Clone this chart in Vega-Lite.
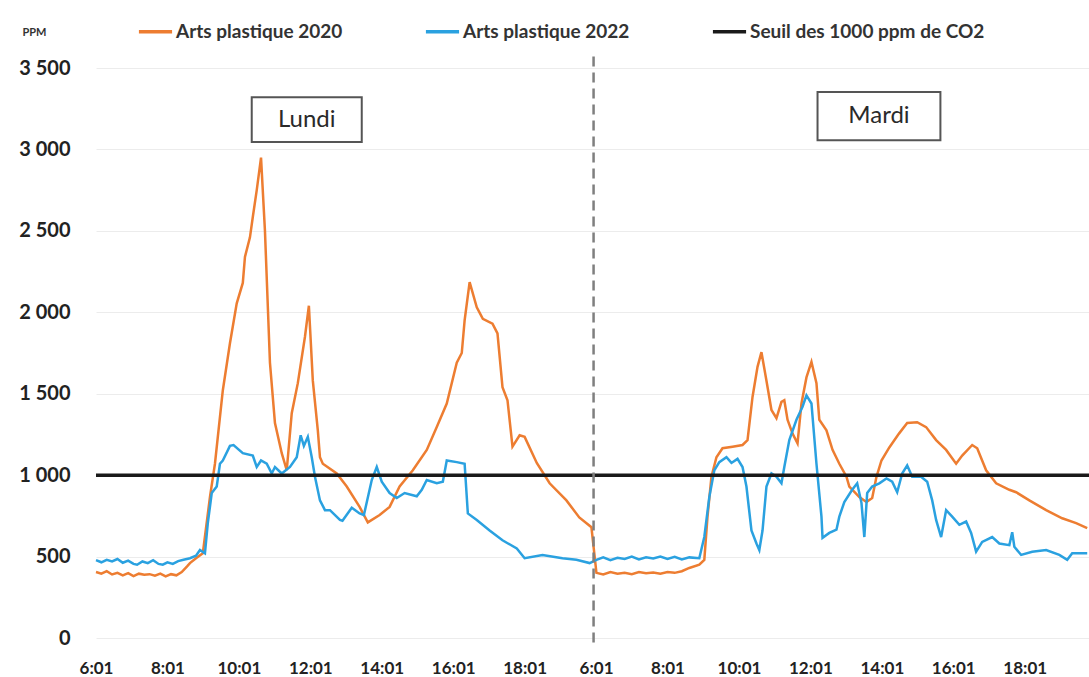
{
  "$schema": "https://vega.github.io/schema/vega-lite/v6.json",
  "width": 993,
  "height": 570,
  "autosize": {"type": "none"},
  "padding": {"left": 96, "top": 68, "right": 0, "bottom": 39},
  "background": "white",
  "config": {"view": {"stroke": null}, "font": "Lato"},
  "datasets": {
    "a2020": [
      {"t": 0, "ppm": 405}, {"t": 0.15, "ppm": 395}, {"t": 0.3, "ppm": 410}, {"t": 0.45, "ppm": 390}, {"t": 0.6, "ppm": 400},
      {"t": 0.75, "ppm": 385}, {"t": 0.9, "ppm": 398}, {"t": 1.05, "ppm": 380}, {"t": 1.2, "ppm": 395}, {"t": 1.35, "ppm": 388},
      {"t": 1.5, "ppm": 392}, {"t": 1.65, "ppm": 383}, {"t": 1.8, "ppm": 395}, {"t": 1.95, "ppm": 378}, {"t": 2.1, "ppm": 392},
      {"t": 2.25, "ppm": 385}, {"t": 2.4, "ppm": 405}, {"t": 2.55, "ppm": 440}, {"t": 2.63, "ppm": 460}, {"t": 2.8, "ppm": 490},
      {"t": 2.99, "ppm": 520}, {"t": 3.19, "ppm": 865}, {"t": 3.33, "ppm": 1070}, {"t": 3.55, "ppm": 1520}, {"t": 3.75, "ppm": 1810},
      {"t": 3.94, "ppm": 2055}, {"t": 4.11, "ppm": 2180}, {"t": 4.17, "ppm": 2340}, {"t": 4.31, "ppm": 2460}, {"t": 4.39, "ppm": 2585},
      {"t": 4.5, "ppm": 2750}, {"t": 4.62, "ppm": 2950}, {"t": 4.73, "ppm": 2500}, {"t": 4.87, "ppm": 1690}, {"t": 5.01, "ppm": 1320},
      {"t": 5.2, "ppm": 1135}, {"t": 5.34, "ppm": 1030}, {"t": 5.48, "ppm": 1380}, {"t": 5.65, "ppm": 1565}, {"t": 5.85, "ppm": 1850},
      {"t": 5.96, "ppm": 2040}, {"t": 6.07, "ppm": 1580}, {"t": 6.21, "ppm": 1275}, {"t": 6.27, "ppm": 1110}, {"t": 6.35, "ppm": 1070},
      {"t": 6.74, "ppm": 1010}, {"t": 7.02, "ppm": 930}, {"t": 7.38, "ppm": 805}, {"t": 7.61, "ppm": 710}, {"t": 7.94, "ppm": 755},
      {"t": 8.22, "ppm": 805}, {"t": 8.5, "ppm": 930}, {"t": 8.87, "ppm": 1030}, {"t": 9.26, "ppm": 1155}, {"t": 9.54, "ppm": 1295},
      {"t": 9.82, "ppm": 1440}, {"t": 10.1, "ppm": 1690}, {"t": 10.24, "ppm": 1750}, {"t": 10.32, "ppm": 1950}, {"t": 10.46, "ppm": 2185},
      {"t": 10.66, "ppm": 2030}, {"t": 10.83, "ppm": 1960}, {"t": 11.1, "ppm": 1930}, {"t": 11.24, "ppm": 1870}, {"t": 11.38, "ppm": 1540},
      {"t": 11.52, "ppm": 1460}, {"t": 11.66, "ppm": 1175}, {"t": 11.86, "ppm": 1245}, {"t": 12.0, "ppm": 1235}, {"t": 12.34, "ppm": 1075},
      {"t": 12.7, "ppm": 950}, {"t": 13.17, "ppm": 845}, {"t": 13.53, "ppm": 740}, {"t": 13.87, "ppm": 680},
      {"t": 14.01, "ppm": 400}, {"t": 14.2, "ppm": 390}, {"t": 14.4, "ppm": 405}, {"t": 14.6, "ppm": 395}, {"t": 14.8, "ppm": 400},
      {"t": 15.0, "ppm": 392}, {"t": 15.2, "ppm": 405}, {"t": 15.4, "ppm": 398}, {"t": 15.6, "ppm": 402}, {"t": 15.8, "ppm": 395},
      {"t": 16.0, "ppm": 405}, {"t": 16.2, "ppm": 400}, {"t": 16.4, "ppm": 410}, {"t": 16.61, "ppm": 430}, {"t": 16.89, "ppm": 450},
      {"t": 17.03, "ppm": 480}, {"t": 17.12, "ppm": 745}, {"t": 17.23, "ppm": 990}, {"t": 17.37, "ppm": 1110}, {"t": 17.54, "ppm": 1165},
      {"t": 17.82, "ppm": 1175}, {"t": 18.1, "ppm": 1185}, {"t": 18.24, "ppm": 1215}, {"t": 18.38, "ppm": 1480}, {"t": 18.52, "ppm": 1665},
      {"t": 18.63, "ppm": 1755}, {"t": 18.77, "ppm": 1580}, {"t": 18.91, "ppm": 1400}, {"t": 19.05, "ppm": 1350}, {"t": 19.19, "ppm": 1450},
      {"t": 19.27, "ppm": 1460}, {"t": 19.36, "ppm": 1340}, {"t": 19.5, "ppm": 1255}, {"t": 19.64, "ppm": 1195}, {"t": 19.75, "ppm": 1440},
      {"t": 19.89, "ppm": 1600}, {"t": 20.03, "ppm": 1695}, {"t": 20.17, "ppm": 1565}, {"t": 20.25, "ppm": 1340}, {"t": 20.45, "ppm": 1275},
      {"t": 20.62, "ppm": 1155}, {"t": 20.81, "ppm": 1070}, {"t": 21.01, "ppm": 990}, {"t": 21.09, "ppm": 930}, {"t": 21.37, "ppm": 865},
      {"t": 21.57, "ppm": 835}, {"t": 21.73, "ppm": 860}, {"t": 21.85, "ppm": 990}, {"t": 21.99, "ppm": 1090}, {"t": 22.21, "ppm": 1170},
      {"t": 22.48, "ppm": 1255}, {"t": 22.71, "ppm": 1320}, {"t": 22.99, "ppm": 1325}, {"t": 23.24, "ppm": 1295}, {"t": 23.52, "ppm": 1215},
      {"t": 23.8, "ppm": 1155}, {"t": 24.08, "ppm": 1070}, {"t": 24.25, "ppm": 1120}, {"t": 24.53, "ppm": 1185}, {"t": 24.67, "ppm": 1165},
      {"t": 24.92, "ppm": 1030}, {"t": 25.2, "ppm": 950}, {"t": 25.57, "ppm": 910}, {"t": 25.76, "ppm": 895}, {"t": 26.13, "ppm": 845},
      {"t": 26.6, "ppm": 785}, {"t": 27.05, "ppm": 735}, {"t": 27.44, "ppm": 705}, {"t": 27.75, "ppm": 675}
    ],
    "a2022": [
      {"t": 0, "ppm": 478}, {"t": 0.15, "ppm": 465}, {"t": 0.3, "ppm": 480}, {"t": 0.45, "ppm": 470}, {"t": 0.6, "ppm": 485},
      {"t": 0.75, "ppm": 462}, {"t": 0.9, "ppm": 475}, {"t": 1.05, "ppm": 455}, {"t": 1.15, "ppm": 450}, {"t": 1.3, "ppm": 470},
      {"t": 1.45, "ppm": 460}, {"t": 1.6, "ppm": 478}, {"t": 1.75, "ppm": 455}, {"t": 1.87, "ppm": 450}, {"t": 2.0, "ppm": 465},
      {"t": 2.15, "ppm": 455}, {"t": 2.3, "ppm": 472}, {"t": 2.45, "ppm": 480}, {"t": 2.63, "ppm": 490}, {"t": 2.8, "ppm": 505},
      {"t": 2.91, "ppm": 540}, {"t": 3.05, "ppm": 520}, {"t": 3.13, "ppm": 705}, {"t": 3.24, "ppm": 890}, {"t": 3.38, "ppm": 930},
      {"t": 3.47, "ppm": 1070}, {"t": 3.55, "ppm": 1090}, {"t": 3.75, "ppm": 1180}, {"t": 3.85, "ppm": 1185}, {"t": 4.11, "ppm": 1135},
      {"t": 4.39, "ppm": 1120}, {"t": 4.5, "ppm": 1050}, {"t": 4.62, "ppm": 1090}, {"t": 4.78, "ppm": 1070}, {"t": 4.92, "ppm": 1010},
      {"t": 5.01, "ppm": 1050}, {"t": 5.2, "ppm": 1010}, {"t": 5.43, "ppm": 1050}, {"t": 5.62, "ppm": 1110}, {"t": 5.73, "ppm": 1245},
      {"t": 5.82, "ppm": 1180}, {"t": 5.93, "ppm": 1235}, {"t": 6.04, "ppm": 1110}, {"t": 6.13, "ppm": 990}, {"t": 6.27, "ppm": 845},
      {"t": 6.41, "ppm": 785}, {"t": 6.55, "ppm": 785}, {"t": 6.83, "ppm": 725}, {"t": 6.9, "ppm": 720}, {"t": 7.16, "ppm": 800},
      {"t": 7.38, "ppm": 765}, {"t": 7.5, "ppm": 755}, {"t": 7.72, "ppm": 970}, {"t": 7.86, "ppm": 1050}, {"t": 8.0, "ppm": 960},
      {"t": 8.22, "ppm": 890}, {"t": 8.42, "ppm": 860}, {"t": 8.64, "ppm": 890}, {"t": 8.98, "ppm": 870}, {"t": 9.12, "ppm": 910},
      {"t": 9.26, "ppm": 970}, {"t": 9.54, "ppm": 950}, {"t": 9.71, "ppm": 960}, {"t": 9.82, "ppm": 1090}, {"t": 10.1, "ppm": 1080},
      {"t": 10.32, "ppm": 1070}, {"t": 10.41, "ppm": 765}, {"t": 10.66, "ppm": 725}, {"t": 11.02, "ppm": 660}, {"t": 11.38, "ppm": 600},
      {"t": 11.78, "ppm": 550}, {"t": 12.0, "ppm": 490}, {"t": 12.5, "ppm": 510}, {"t": 13.06, "ppm": 490}, {"t": 13.45, "ppm": 480},
      {"t": 13.82, "ppm": 460},
      {"t": 14.01, "ppm": 480}, {"t": 14.2, "ppm": 495}, {"t": 14.4, "ppm": 478}, {"t": 14.6, "ppm": 492}, {"t": 14.8, "ppm": 485},
      {"t": 15.0, "ppm": 500}, {"t": 15.2, "ppm": 482}, {"t": 15.4, "ppm": 495}, {"t": 15.6, "ppm": 488}, {"t": 15.8, "ppm": 500},
      {"t": 16.0, "ppm": 485}, {"t": 16.2, "ppm": 498}, {"t": 16.4, "ppm": 482}, {"t": 16.61, "ppm": 495}, {"t": 16.89, "ppm": 490},
      {"t": 17.03, "ppm": 620}, {"t": 17.17, "ppm": 865}, {"t": 17.31, "ppm": 1030}, {"t": 17.45, "ppm": 1080}, {"t": 17.65, "ppm": 1110},
      {"t": 17.79, "ppm": 1075}, {"t": 17.96, "ppm": 1100}, {"t": 18.1, "ppm": 1050}, {"t": 18.21, "ppm": 930}, {"t": 18.35, "ppm": 660},
      {"t": 18.49, "ppm": 580}, {"t": 18.57, "ppm": 540}, {"t": 18.66, "ppm": 660}, {"t": 18.77, "ppm": 930}, {"t": 18.91, "ppm": 1010},
      {"t": 19.05, "ppm": 990}, {"t": 19.19, "ppm": 950}, {"t": 19.27, "ppm": 1050}, {"t": 19.41, "ppm": 1215}, {"t": 19.61, "ppm": 1340},
      {"t": 19.78, "ppm": 1420}, {"t": 19.89, "ppm": 1490}, {"t": 20.03, "ppm": 1440}, {"t": 20.17, "ppm": 1070}, {"t": 20.31, "ppm": 745},
      {"t": 20.34, "ppm": 615}, {"t": 20.53, "ppm": 645}, {"t": 20.73, "ppm": 665}, {"t": 20.81, "ppm": 745}, {"t": 20.95, "ppm": 835},
      {"t": 21.17, "ppm": 910}, {"t": 21.31, "ppm": 950}, {"t": 21.43, "ppm": 830}, {"t": 21.51, "ppm": 620}, {"t": 21.59, "ppm": 890},
      {"t": 21.73, "ppm": 930}, {"t": 21.93, "ppm": 950}, {"t": 22.13, "ppm": 980}, {"t": 22.29, "ppm": 960}, {"t": 22.43, "ppm": 895},
      {"t": 22.57, "ppm": 1010}, {"t": 22.71, "ppm": 1060}, {"t": 22.85, "ppm": 990}, {"t": 23.1, "ppm": 990}, {"t": 23.27, "ppm": 960},
      {"t": 23.41, "ppm": 845}, {"t": 23.52, "ppm": 725}, {"t": 23.66, "ppm": 620}, {"t": 23.8, "ppm": 785}, {"t": 23.97, "ppm": 745},
      {"t": 24.17, "ppm": 695}, {"t": 24.36, "ppm": 715}, {"t": 24.5, "ppm": 645}, {"t": 24.64, "ppm": 530}, {"t": 24.81, "ppm": 590},
      {"t": 25.09, "ppm": 620}, {"t": 25.29, "ppm": 580}, {"t": 25.57, "ppm": 570}, {"t": 25.65, "ppm": 650}, {"t": 25.71, "ppm": 560},
      {"t": 25.9, "ppm": 510}, {"t": 26.21, "ppm": 530}, {"t": 26.6, "ppm": 540}, {"t": 26.97, "ppm": 510}, {"t": 27.19, "ppm": 480},
      {"t": 27.33, "ppm": 520}, {"t": 27.61, "ppm": 520}, {"t": 27.75, "ppm": 520}
    ],
    "notes": [
      {"label": "Lundi", "t1": 4.36, "t2": 7.44, "p1": 3045, "p2": 3321, "tc": 5.9, "pc": 3183},
      {"label": "Mardi", "t1": 20.2, "t2": 23.64, "p1": 3057, "p2": 3352, "tc": 21.92, "pc": 3205}
    ]
  },
  "encoding": {
    "x": {
      "type": "quantitative",
      "scale": {"domain": [0, 27.8], "nice": false, "zero": false},
      "axis": {
        "title": null,
        "values": [0, 2, 4, 6, 8, 10, 12, 14, 16, 18, 20, 22, 24, 26],
        "labelExpr": "(6 + datum.value % 14) + ':01'",
        "grid": false, "domain": false, "ticks": false,
        "labelFont": "Lato", "labelFontSize": 17, "labelFontWeight": "bold", "labelColor": "#222",
        "labelPadding": 22, "labelFlush": false, "labelOverlap": false
      }
    },
    "y": {
      "type": "quantitative",
      "scale": {"domain": [0, 3500], "nice": false},
      "axis": {
        "title": "PPM", "titleAngle": 0, "titleX": -74, "titleY": -36, "titleAlign": "left", "titleBaseline": "middle",
        "titleFont": "Lato", "titleFontSize": 11, "titleFontWeight": "bold", "titleColor": "#333",
        "values": [0, 500, 1000, 1500, 2000, 2500, 3000, 3500],
        "labelExpr": "replace(format(datum.value, ','), ',', ' ')",
        "grid": true, "gridColor": "#ececec", "gridWidth": 1, "domain": false, "ticks": false,
        "labelFont": "Lato", "labelFontSize": 20, "labelFontWeight": "bold", "labelColor": "#222", "labelPadding": 26
      }
    }
  },
  "layer": [
    {
      "data": {"name": "a2020"},
      "mark": {"type": "line", "strokeWidth": 2.5, "interpolate": "linear"},
      "encoding": {
        "x": {"field": "t", "type": "quantitative"},
        "y": {"field": "ppm", "type": "quantitative"},
        "color": {
          "datum": "Arts plastique 2020",
          "type": "nominal",
          "scale": {
            "domain": ["Arts plastique 2020", "Arts plastique 2022", "Seuil des 1000 ppm de CO2"],
            "range": ["#ED7D31", "#2AA1E0", "#1a1a1a"]
          },
          "legend": {
            "title": null, "orient": "none", "legendX": 41, "legendY": -55, "direction": "horizontal",
            "symbolType": "stroke", "symbolSize": 1100, "symbolStrokeWidth": 3.5, "labelOffset": 2,
            "labelFont": "Lato", "labelFontSize": 19, "labelFontWeight": "bold", "labelColor": "#333",
            "columnPadding": 75, "labelLimit": 400
          }
        }
      }
    },
    {
      "data": {"name": "a2022"},
      "mark": {"type": "line", "strokeWidth": 2.5, "interpolate": "linear"},
      "encoding": {
        "x": {"field": "t", "type": "quantitative"},
        "y": {"field": "ppm", "type": "quantitative"},
        "color": {"datum": "Arts plastique 2022", "type": "nominal"}
      }
    },
    {
      "data": {"values": [{}]},
      "mark": {"type": "rule", "strokeWidth": 3.5},
      "encoding": {
        "y": {"datum": 1000, "type": "quantitative"},
        "color": {"datum": "Seuil des 1000 ppm de CO2", "type": "nominal"}
      }
    },
    {
      "data": {"values": [{}]},
      "mark": {"type": "rule", "strokeWidth": 2.5, "strokeDash": [10, 6], "color": "#7f7f7f"},
      "encoding": {
        "x": {"datum": 13.93, "type": "quantitative"},
        "y": {"datum": 3570, "type": "quantitative"},
        "y2": {"datum": -60}
      }
    },
    {
      "data": {"name": "notes"},
      "mark": {"type": "rect", "fill": "white", "stroke": "#555", "strokeWidth": 2},
      "encoding": {
        "x": {"field": "t1", "type": "quantitative"},
        "x2": {"field": "t2"},
        "y": {"field": "p1", "type": "quantitative"},
        "y2": {"field": "p2"}
      }
    },
    {
      "data": {"name": "notes"},
      "mark": {"type": "text", "font": "Lato", "fontSize": 24, "color": "#2a2a2a", "align": "center", "baseline": "middle"},
      "encoding": {
        "x": {"field": "tc", "type": "quantitative"},
        "y": {"field": "pc", "type": "quantitative"},
        "text": {"field": "label"}
      }
    }
  ]
}
